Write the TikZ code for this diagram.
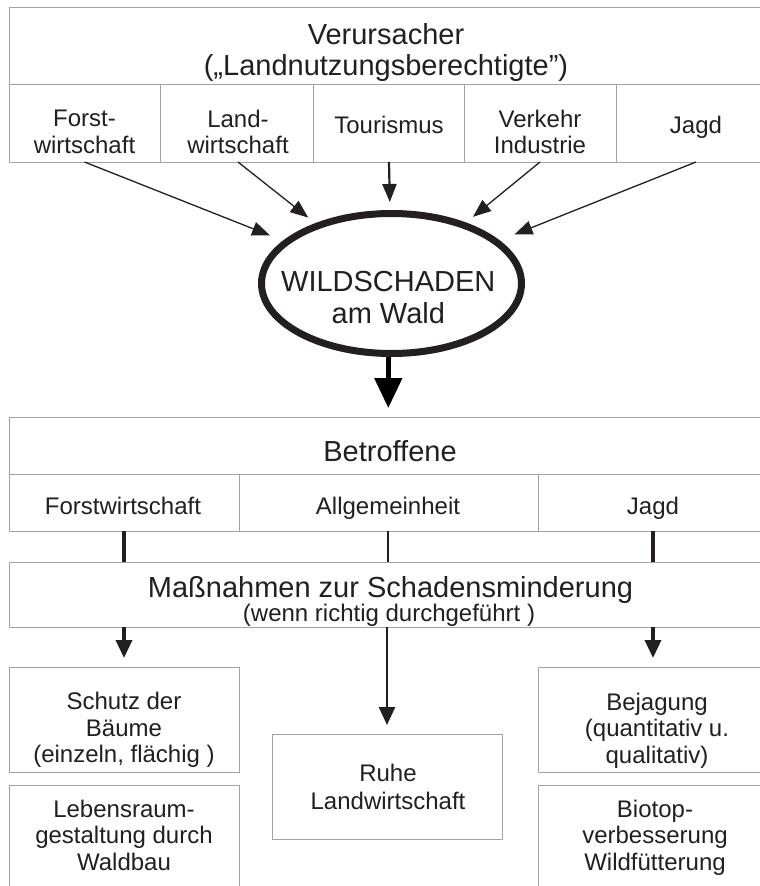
\documentclass[tikz,border=0pt]{standalone}
\usepackage{fontspec}
\setmainfont{Liberation Sans}
\usetikzlibrary{arrows.meta, positioning, shapes.geometric}
\definecolor{FrameGray}{HTML}{A3A3A3}
\definecolor{InkBlack}{HTML}{231F20}

\begin{document}
\begin{tikzpicture}[
        x=1pt, y=-1pt,
        node distance=0pt,
        every node/.style={align=center, text=InkBlack, inner sep=0pt, outer sep=0pt},
        big/.style={font=\fontsize{29}{31}\selectfont},
        small/.style={font=\fontsize{24}{26.5}\selectfont},
        cell/.style={draw=FrameGray, line width=1pt},
        arrow/.style={draw=InkBlack, line width=1.3pt, -{Triangle[length=18pt, width=14pt]}},
        stem/.style={draw=InkBlack, line width=3.5pt},
        drop/.style={draw=InkBlack, line width=3.5pt, -{Triangle[length=18pt, width=16pt]}}
    ]
        \useasboundingbox (0,0) rectangle (760,886);
        \clip (0,0) rectangle (760,886);
        \fill[white] (0,0) rectangle (760,886);

        % Verursacher
        \node[cell, minimum width=751pt, minimum height=77pt] (verursacher) at (384.5,45.5) {};
        \node[cell, anchor=north west, minimum width=151pt, minimum height=78pt] (forst) at (verursacher.south west) {};
        \node[cell, right=of forst, minimum width=153pt, minimum height=78pt] (land) {};
        \node[cell, right=of land, minimum width=151pt, minimum height=78pt] (tour) {};
        \node[cell, right=of tour, minimum width=152pt, minimum height=78pt] (verkehr) {};
        \node[cell, right=of verkehr, minimum width=144pt, minimum height=78pt] (jagd) {};

        \node[big] (verursacherT) at (386,53) {Verursacher\\(„Landnutzungsberechtigte”)};
        \node[small] (forstT) at (84.5,132) {Forst-\\wirtschaft};
        \node[small] (landT) at (238,132) {Land-\\wirtschaft};
        \node[small, anchor=base] (tourT) at (389,133) {Tourismus};
        \node[small] (verkehrT) at (540,132) {Verkehr\\Industrie};
        \node[small, anchor=base] (jagdT) at (696,133) {Jagd};

        % Wildschaden
        \node[ellipse, draw=InkBlack, line width=7pt, outer sep=3.5pt,
              minimum width=260pt, minimum height=140pt] (wild) at (391.5,283.5) {};
        \node[font=\fontsize{29}{32}\selectfont] (wildT) at (388.3,297.6) {WILDSCHADEN\\am Wald};

        \draw[arrow, shorten >=14pt] (forstT |- forst.south) -- (wild);
        \draw[arrow, shorten >=9pt] (landT |- land.south) -- (wild);
        \draw[arrow, line width=2.2pt, shorten >=8pt] (tourT |- tour.south) -- (wild);
        \draw[arrow, shorten >=9pt] (verkehrT |- verkehr.south) -- (wild);
        \draw[arrow, shorten >=16pt] (jagdT |- jagd.south) -- (wild);

        % Betroffene
        \node[cell, minimum width=751pt, minimum height=57pt] (betroffene) at (384.5,445.5) {};
        \node[cell, anchor=north west, minimum width=230pt, minimum height=57pt] (bforst) at (betroffene.south west) {};
        \node[cell, right=of bforst, minimum width=299pt, minimum height=57pt] (ballg) {};
        \node[cell, right=of ballg, minimum width=222pt, minimum height=57pt] (bjagd) {};

        \node[big, anchor=base] (betroffeneT) at (390,461) {Betroffene};
        \node[small, anchor=base] (bforstT) at (123,514) {Forstwirtschaft};
        \node[small, anchor=base] (ballgT) at (388,514) {Allgemeinheit};
        \node[small, anchor=base] (bjagdT) at (653,514) {Jagd};

        \draw[line width=5pt, -{Triangle[length=30pt, width=27pt]}, shorten >=9pt]
            (wildT |- wild.south) -- (wildT |- betroffene.north);

        % Massnahmen
        \node[cell, minimum width=751pt, minimum height=65pt] (massnahmen) at (384.5,594.5) {};
        \node[big, anchor=base] (massnahmenT) at (390.5,597) {Maßnahmen zur Schadensminderung};
        \node[small, anchor=base] (hinweisT) at (389,621.5) {(wenn richtig durchgeführt )};

        \draw[stem] (bforst.south) -- (bforst.south |- massnahmen.north);
        \draw[stem, line width=2.5pt] (ballgT |- ballg.south) -- (ballgT |- massnahmen.north);
        \draw[stem] (bjagdT |- bjagd.south) -- (bjagdT |- massnahmen.north);

        \node[cell, minimum width=230pt, minimum height=105pt] (schutz) at (124,719.5) {};
        \node[cell, minimum width=230pt, minimum height=105pt] (lebensraum) at (124,837.5) {};
        \node[cell, minimum width=230pt, minimum height=105pt] (ruhe) at (387,786.5) {};
        \node[cell, minimum width=222pt, minimum height=105pt] (bejagung) at (649,719.5) {};
        \node[cell, minimum width=222pt, minimum height=105pt] (biotop) at (649,837.5) {};

        \node[small] (schutzT) at (124,730) {Schutz der\\Bäume\\(einzeln, flächig )};
        \node[small] (lebensraumT) at (124,835) {Lebensraum-\\gestaltung durch\\Waldbau};
        \node[font=\fontsize{24}{28}\selectfont] (ruheT) at (388,787.4) {Ruhe\\Landwirtschaft};
        \node[small] (bejagungT) at (657,730.4) {Bejagung\\(quantitativ u.\\qualitativ)};
        \node[small] (biotopT) at (655,837.4) {Biotop-\\verbesserung\\Wildfütterung};

        \draw[drop, shorten >=9pt] (schutz.north |- massnahmen.south) -- (schutz.north);
        \draw[drop, line width=2.5pt, shorten >=9pt] (ruhe.north |- massnahmen.south) -- (ruhe.north);
        \draw[drop, shorten >=9pt] (bjagdT |- massnahmen.south) -- (bjagdT |- bejagung.north);
    \end{tikzpicture}
\end{document}
